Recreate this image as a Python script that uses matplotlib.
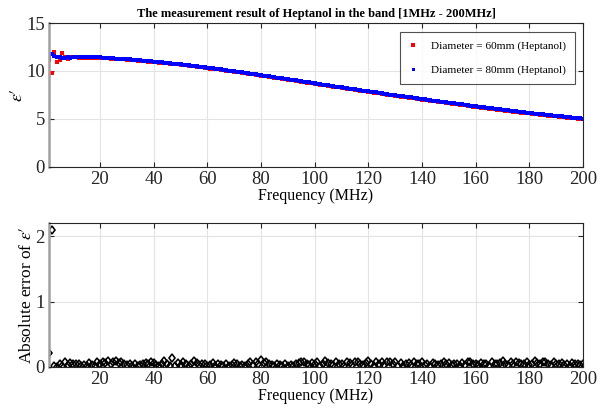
import numpy as np
import matplotlib.pyplot as plt

# frequency sweep, 1 MHz steps
freq_mhz = np.arange(1, 201)

# permittivity, 80 mm cell
eps_d80 = [
    11.35, 11.75, 11.55, 11.45, 11.50, 11.35, 11.40, 11.45, 11.40, 11.45,
    11.45, 11.44, 11.44, 11.44, 11.43, 11.43, 11.43, 11.42, 11.42, 11.42,
    11.40, 11.38, 11.36, 11.34, 11.32, 11.30, 11.28, 11.26, 11.24, 11.22,
    11.20, 11.17, 11.15, 11.12, 11.10, 11.08, 11.05, 11.03, 11.00, 10.98,
    10.95, 10.92, 10.90, 10.87, 10.84, 10.81, 10.78, 10.76, 10.73, 10.70,
    10.67, 10.63, 10.60, 10.56, 10.53, 10.49, 10.46, 10.42, 10.39, 10.35,
    10.31, 10.27, 10.24, 10.20, 10.16, 10.12, 10.08, 10.05, 10.01, 9.97,
    9.93, 9.89, 9.85, 9.81, 9.77, 9.73, 9.69, 9.65, 9.61, 9.57,
    9.53, 9.49, 9.44, 9.40, 9.36, 9.32, 9.28, 9.23, 9.19, 9.15,
    9.11, 9.06, 9.02, 8.98, 8.94, 8.89, 8.85, 8.81, 8.76, 8.72,
    8.68, 8.64, 8.59, 8.55, 8.51, 8.47, 8.43, 8.38, 8.34, 8.30,
    8.26, 8.22, 8.17, 8.13, 8.09, 8.05, 8.01, 7.96, 7.92, 7.88,
    7.84, 7.80, 7.76, 7.72, 7.68, 7.63, 7.59, 7.55, 7.51, 7.47,
    7.43, 7.39, 7.35, 7.31, 7.28, 7.24, 7.20, 7.16, 7.12, 7.08,
    7.04, 7.00, 6.96, 6.92, 6.89, 6.85, 6.81, 6.77, 6.73, 6.69,
    6.65, 6.62, 6.58, 6.54, 6.51, 6.47, 6.43, 6.39, 6.36, 6.32,
    6.28, 6.25, 6.21, 6.18, 6.14, 6.10, 6.07, 6.03, 6.00, 5.96,
    5.93, 5.89, 5.86, 5.83, 5.80, 5.76, 5.73, 5.70, 5.66, 5.63,
    5.60, 5.57, 5.54, 5.51, 5.48, 5.44, 5.41, 5.38, 5.35, 5.32,
    5.29, 5.26, 5.23, 5.20, 5.18, 5.15, 5.12, 5.09, 5.06, 5.03,
]

# permittivity, 60 mm cell
eps_d60 = [
    11.12, 9.75, 11.97, 10.98, 11.10, 11.92, 11.45, 11.20, 11.50, 11.45,
    11.41, 11.40, 11.38, 11.40, 11.37, 11.39, 11.38, 11.36, 11.38, 11.36,
    11.35, 11.34, 11.31, 11.30, 11.26, 11.26, 11.23, 11.21, 11.20, 11.17,
    11.15, 11.13, 11.10, 11.08, 11.05, 11.03, 11.00, 10.98, 10.96, 10.93,
    10.90, 10.88, 10.85, 10.82, 10.80, 10.76, 10.74, 10.71, 10.68, 10.66,
    10.62, 10.59, 10.55, 10.52, 10.48, 10.45, 10.41, 10.38, 10.34, 10.31,
    10.26, 10.23, 10.19, 10.16, 10.11, 10.08, 10.03, 10.00, 9.96, 9.93,
    9.88, 9.85, 9.80, 9.77, 9.72, 9.69, 9.64, 9.61, 9.56, 9.52,
    9.48, 9.44, 9.40, 9.35, 9.31, 9.27, 9.23, 9.19, 9.14, 9.10,
    9.06, 9.02, 8.97, 8.93, 8.89, 8.85, 8.80, 8.76, 8.72, 8.67,
    8.63, 8.59, 8.55, 8.50, 8.46, 8.42, 8.38, 8.34, 8.29, 8.25,
    8.21, 8.17, 8.13, 8.08, 8.04, 8.00, 7.96, 7.92, 7.87, 7.83,
    7.79, 7.75, 7.71, 7.67, 7.63, 7.59, 7.54, 7.50, 7.46, 7.42,
    7.38, 7.34, 7.30, 7.26, 7.22, 7.19, 7.15, 7.11, 7.07, 7.03,
    6.99, 6.95, 6.91, 6.87, 6.83, 6.80, 6.76, 6.72, 6.68, 6.64,
    6.60, 6.56, 6.53, 6.49, 6.45, 6.42, 6.38, 6.34, 6.30, 6.27,
    6.23, 6.19, 6.16, 6.12, 6.09, 6.05, 6.01, 5.98, 5.94, 5.91,
    5.87, 5.84, 5.81, 5.77, 5.74, 5.71, 5.67, 5.64, 5.61, 5.58,
    5.55, 5.51, 5.48, 5.45, 5.42, 5.39, 5.36, 5.33, 5.29, 5.26,
    5.23, 5.20, 5.17, 5.14, 5.12, 5.09, 5.06, 5.03, 5.00, 4.98,
]

# absolute error of eps'
abs_err = [
    0.22, 2.10, 0.02, 0.00, 0.04, 0.01, 0.08, 0.03, 0.06, 0.05,
    0.04, 0.05, 0.02, 0.03, 0.01, 0.06, 0.03, 0.02, 0.07, 0.04,
    0.08, 0.06, 0.09, 0.05, 0.07, 0.09, 0.06, 0.08, 0.04, 0.03,
    0.05, 0.02, 0.04, 0.01, 0.03, 0.05, 0.06, 0.04, 0.07, 0.06,
    0.03, 0.01, 0.04, 0.09, 0.05, 0.02, 0.13, 0.01, 0.06, 0.03,
    0.08, 0.04, 0.02, 0.05, 0.09, 0.06, 0.03, 0.05, 0.04, 0.02,
    0.03, 0.06, 0.01, 0.05, 0.03, 0.02, 0.04, 0.01, 0.03, 0.06,
    0.04, 0.02, 0.03, 0.01, 0.04, 0.07, 0.03, 0.08, 0.05, 0.10,
    0.06, 0.08, 0.04, 0.03, 0.02, 0.05, 0.03, 0.01, 0.04, 0.02,
    0.03, 0.01, 0.05, 0.06, 0.08, 0.07, 0.05, 0.03, 0.06, 0.04,
    0.07, 0.02, 0.05, 0.09, 0.06, 0.04, 0.03, 0.07, 0.05, 0.04,
    0.02, 0.08, 0.06, 0.03, 0.07, 0.08, 0.05, 0.03, 0.06, 0.09,
    0.04, 0.02, 0.07, 0.05, 0.08, 0.03, 0.08, 0.07, 0.05, 0.08,
    0.02, 0.06, 0.01, 0.04, 0.06, 0.03, 0.07, 0.05, 0.04, 0.07,
    0.03, 0.05, 0.02, 0.06, 0.04, 0.03, 0.05, 0.07, 0.04, 0.06,
    0.03, 0.05, 0.04, 0.02, 0.06, 0.03, 0.08, 0.07, 0.04, 0.05,
    0.03, 0.06, 0.04, 0.05, 0.02, 0.07, 0.05, 0.04, 0.06, 0.09,
    0.05, 0.03, 0.07, 0.04, 0.08, 0.06, 0.04, 0.05, 0.07, 0.03,
    0.05, 0.09, 0.06, 0.04, 0.07, 0.08, 0.05, 0.03, 0.07, 0.05,
    0.04, 0.06, 0.03, 0.05, 0.02, 0.06, 0.04, 0.05, 0.03, 0.04,
]

plt.rcParams['font.family'] = ['Liberation Serif', 'DejaVu Serif']
plt.rcParams['mathtext.fontset'] = 'stix'

fig = plt.figure(figsize=(6.08, 4.16), dpi=100)
ax1 = fig.add_axes([0.0806, 0.5986, 0.8784, 0.3461])
ax2 = fig.add_axes([0.0806, 0.1178, 0.8784, 0.3462])


def style_axes(ax):
    ax.grid(True, color='#e3e3e3', linewidth=0.8)
    ax.set_axisbelow(True)
    ax.tick_params(direction='in', length=3.5, width=0.8, top=True, right=True,
                   labelsize=13.5, colors='#262626', pad=3)
    for s in ['top', 'right', 'bottom']:
        ax.spines[s].set_color('#262626')
        ax.spines[s].set_linewidth(0.8)
    ax.spines['left'].set_color('#a0a0a0')
    ax.spines['left'].set_linewidth(1.8)
    ax.set_xlim(1, 200)
    ax.set_xticks(np.arange(20, 201, 20))


# --- top: eps' for both cells ---
ax1.plot(freq_mhz, eps_d60, linestyle='none', marker='s', markersize=2.6,
         color='#ff0000', markeredgewidth=0, label='Diameter = 60mm (Heptanol)')
ax1.plot(freq_mhz, eps_d80, linestyle='none', marker='s', markersize=2.4,
         color='#0000ff', markeredgewidth=0, label='Diameter = 80mm (Heptanol)')
style_axes(ax1)
ax1.set_ylim(0, 15)
ax1.set_yticks([0, 5, 10, 15])
ax1.set_title('The measurement result of Heptanol in the band [1MHz - 200MHz]',
              fontsize=9, fontweight='bold', pad=4)
ax1.set_xlabel('Frequency (MHz)', fontsize=11.5, labelpad=0)
ax1.set_ylabel(r'$\epsilon\prime$', fontsize=13, labelpad=0)
leg = ax1.legend(loc='upper right', fontsize=8.1, frameon=True, fancybox=False,
                 edgecolor='#262626', handlelength=0.8, handletextpad=1.2,
                 borderpad=0.8, labelspacing=1.25, markerscale=0.9,
                 borderaxespad=0, bbox_to_anchor=(0.985, 0.9375))
leg.get_frame().set_linewidth(0.8)

# --- bottom: absolute error ---
ax2.plot(freq_mhz, abs_err, linestyle='none', marker='d', markersize=4.3,
         markerfacecolor='none', markeredgecolor='black', markeredgewidth=1.15)
style_axes(ax2)
ax2.set_ylim(0, 2.2)
ax2.set_yticks([0, 1, 2])
ax2.set_xlabel('Frequency (MHz)', fontsize=11.5, labelpad=0)
ax2.set_ylabel(r'Absolute error of $\epsilon\prime$', fontsize=12.5, labelpad=0)

fig.savefig('out.png', dpi=100)
